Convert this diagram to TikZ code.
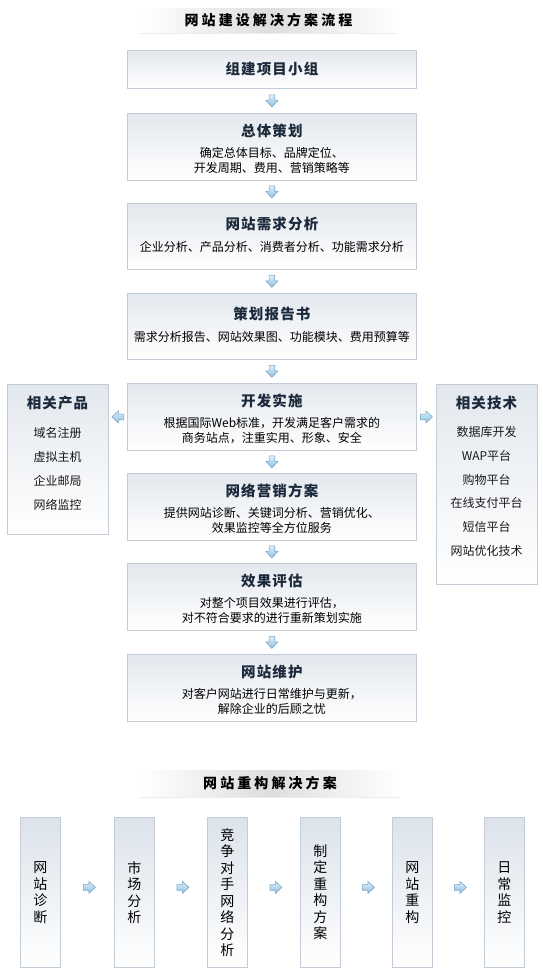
\documentclass[tikz,border=0pt]{standalone}
\usepackage{fontspec}
\setmainfont{Noto Sans CJK SC}
\usetikzlibrary{calc}
\definecolor{edge}{HTML}{C3CCD6}
\definecolor{btop}{HTML}{E3E8EE}
\definecolor{qtop}{HTML}{DCE3EB}
\definecolor{ttl}{HTML}{1C2A3C}
\definecolor{arrA}{HTML}{DCEFFA}
\definecolor{arrB}{HTML}{8CBFE0}
\definecolor{arrE}{HTML}{7AA6C6}
\definecolor{bandc}{HTML}{DEDEDE}
\tikzset{
  mbox/.style={draw=edge, line width=0.8pt, top color=btop, bottom color=white, minimum width=289, anchor=north west, inner sep=0pt},
  sbox/.style={draw=edge, line width=0.8pt, top color=btop, bottom color=white, minimum width=101, anchor=north west, inner sep=0pt},
  qbox/.style={draw=edge, line width=0.8pt, top color=qtop, bottom color=white, minimum width=40, minimum height=150, anchor=north west, inner sep=0pt},
  band/.style={left color=white, right color=white, middle color=bandc, inner sep=0pt},
  htext/.style={font=\fontsize{14}{17}\selectfont\bfseries\addfontfeature{LetterSpace=22}, text=black, inner sep=0pt},
  btitle/.style={font=\fontsize{14.5}{17}\selectfont\bfseries\addfontfeature{LetterSpace=8}, text=ttl, inner sep=0pt},
  bdesc/.style={font=\fontsize{12}{15}\selectfont, text=black, align=center, inner sep=0pt},
  sitem/.style={font=\fontsize{12}{15}\selectfont, text=black!90, inner sep=0pt},
  qtext/.style={font=\fontsize{14}{16.5}\selectfont, text=black, align=center, inner sep=0pt},
  barrow/.pic={\path[draw=arrE, line width=0.6pt, top color=arrA, bottom color=arrB]
     (-2.8,6) -- (2.8,6) -- (2.8,0.5) -- (6,0.5) -- (0,-6) -- (-6,0.5) -- (-2.8,0.5) -- cycle;}
}
\begin{document}
\begin{tikzpicture}[x=1pt,y=1pt]
\useasboundingbox (0,0) rectangle (543,-980);
\fill[white] (0,0) rectangle (543,-980);

% heading 1
\node[band, minimum width=257, minimum height=25] (h1) at (268.5,-20.5) {};
\draw[white!85!gray, line width=0.6pt] (h1.south west) -- (h1.south east);
\node[htext] (h1t) at (h1) {网站建设解决方案流程};

% main boxes
\node[mbox, minimum height=38] (b1) at (127,-50) {};
\node[btitle] (b1t) at ($(b1.north)+(0,-19)$) {组建项目小组};

\node[mbox, minimum height=67] (b2) at (127,-113) {};
\node[btitle] (b2t) at ($(b2.north)+(0,-18)$) {总体策划};
\node[bdesc] (b2d) at ($(b2.north)+(0,-47.5)$) {确定总体目标、品牌定位、\\开发周期、费用、营销策略等};

\node[mbox, minimum height=66] (b3) at (127,-203) {};
\node[btitle] (b3t) at ($(b3.north)+(0,-21)$) {网站需求分析};
\node[bdesc] (b3d) at ($(b3.north)+(0,-44)$) {企业分析、产品分析、消费者分析、功能需求分析};

\node[mbox, minimum height=66] (b4) at (127,-293) {};
\node[btitle] (b4t) at ($(b4.north)+(0,-21)$) {策划报告书};
\node[bdesc] (b4d) at ($(b4.north)+(0,-44)$) {需求分析报告、网站效果图、功能模块、费用预算等};

\node[mbox, minimum height=67] (b5) at (127,-383) {};
\node[btitle] (b5t) at ($(b5.north)+(0,-18)$) {开发实施};
\node[bdesc] (b5d) at ($(b5.north)+(0,-47.5)$) {根据国际Web标准，开发满足客户需求的\\商务站点，注重实用、形象、安全};

\node[mbox, minimum height=67] (b6) at (127,-473) {};
\node[btitle] (b6t) at ($(b6.north)+(0,-18)$) {网络营销方案};
\node[bdesc] (b6d) at ($(b6.north)+(0,-47.5)$) {提供网站诊断、关键词分析、营销优化、\\效果监控等全方位服务};

\node[mbox, minimum height=67] (b7) at (127,-563) {};
\node[btitle] (b7t) at ($(b7.north)+(0,-18)$) {效果评估};
\node[bdesc] (b7d) at ($(b7.north)+(0,-47.5)$) {对整个项目效果进行评估，\\对不符合要求的进行重新策划实施};

\node[mbox, minimum height=67] (b8) at (127,-654) {};
\node[btitle] (b8t) at ($(b8.north)+(0,-18)$) {网站维护};
\node[bdesc] (b8d) at ($(b8.north)+(0,-47.5)$) {对客户网站进行日常维护与更新，\\解除企业的后顾之忧};

% down arrows
\foreach \a/\b in {b1/b2,b2/b3,b3/b4,b4/b5,b5/b6,b6/b7,b7/b8}
  \pic at ($(\a.south)!0.5!(\b.north)$) {barrow};

% side boxes
\node[sbox, minimum height=150] (lp) at (7,-384) {};
\node[btitle] (lpt) at (57.5,-403) {相关产品};
\node[sitem] (lp1) at (57.5,-433) {域名注册};
\node[sitem] (lp2) at (57.5,-457) {虚拟主机};
\node[sitem] (lp3) at (57.5,-481) {企业邮局};
\node[sitem] (lp4) at (57.5,-505) {网络监控};

\node[sbox, minimum height=200] (rp) at (436,-384) {};
\node[btitle] (rpt) at (486.5,-403) {相关技术};
\node[sitem] (rp1) at (486.5,-432) {数据库开发};
\node[sitem] (rp2) at (486.5,-456) {WAP平台};
\node[sitem] (rp3) at (486.5,-480) {购物平台};
\node[sitem] (rp4) at (486.5,-503) {在线支付平台};
\node[sitem] (rp5) at (486.5,-527) {短信平台};
\node[sitem] (rp6) at (486.5,-551) {网站优化技术};

\pic[rotate=-90] at ($(lp.east |- b5.center)!0.5!(b5.west)$) {barrow};
\pic[rotate=90] at ($(b5.east)!0.5!(rp.west |- b5.center)$) {barrow};

% heading 2
\node[band, minimum width=260, minimum height=27] (h2) at (270,-783.5) {};
\draw[white!85!gray, line width=0.6pt] (h2.south west) -- (h2.south east);
\node[htext] (h2t) at (h2) {网站重构解决方案};

% bottom boxes
\node[qbox] (q1) at (20,-817) {};
\node[qtext] (q1t) at (q1) {网\\站\\诊\\断};
\node[qbox] (q2) at (114,-817) {};
\node[qtext] (q2t) at (q2) {市\\场\\分\\析};
\node[qbox] (q3) at (207,-817) {};
\node[qtext] (q3t) at (q3) {竞\\争\\对\\手\\网\\络\\分\\析};
\node[qbox] (q4) at (300,-817) {};
\node[qtext] (q4t) at (q4) {制\\定\\重\\构\\方\\案};
\node[qbox] (q5) at (392,-817) {};
\node[qtext] (q5t) at (q5) {网\\站\\重\\构};
\node[qbox] (q6) at (484,-817) {};
\node[qtext] (q6t) at (q6) {日\\常\\监\\控};

\foreach \a/\b in {q1/q2,q2/q3,q3/q4,q4/q5,q5/q6}
  \pic[rotate=90] at ($(\a.east)!0.5!(\b.west)+(2,5)$) {barrow};
\end{tikzpicture}
\end{document}
